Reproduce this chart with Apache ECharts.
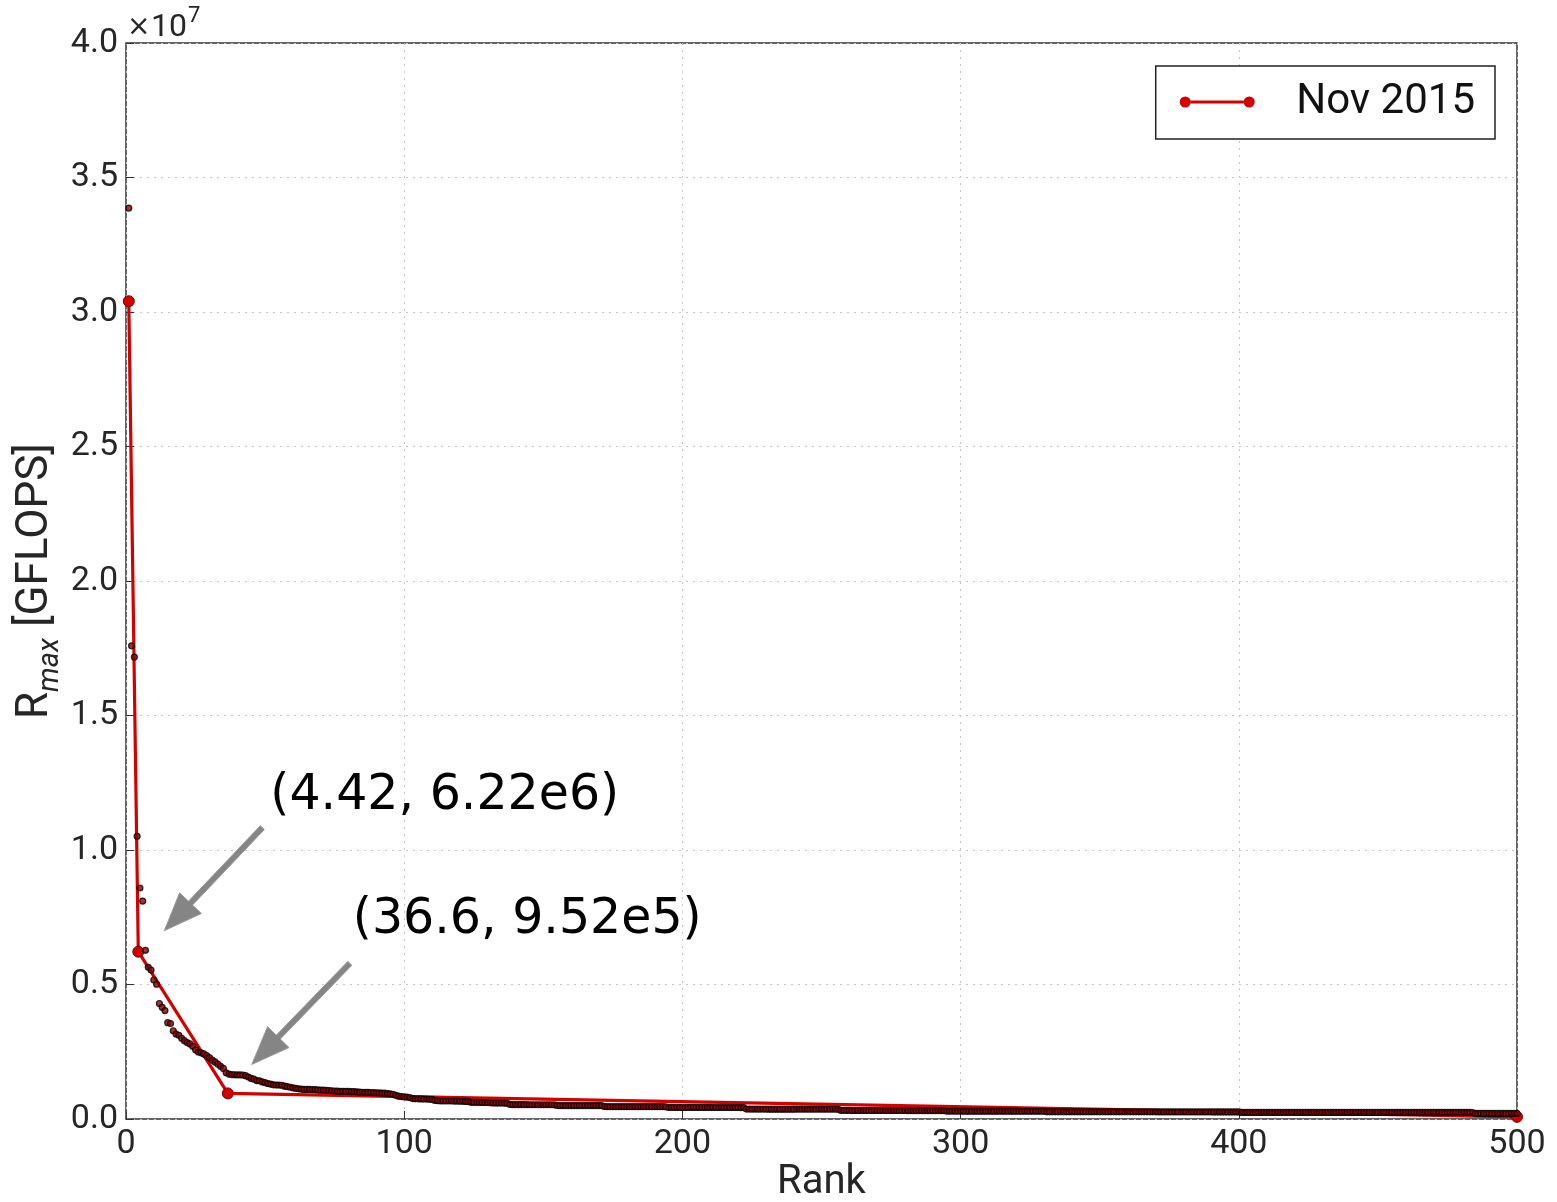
<!DOCTYPE html>
<html>
<head>
<meta charset="utf-8">
<title>Top500 Rmax by rank, Nov 2015</title>
<script src="https://cdn.jsdelivr.net/npm/echarts@6/dist/echarts.min.js"></script>
<style>
  html, body { margin: 0; padding: 0; background: #fff; overflow: hidden; }
  #chart { width: 1557px; height: 1202px; }
</style>
</head>
<body>
<div id="chart"></div>
<script>
// Rmax of each ranked system (TFLOPS), rank 1 .. 500
const rmaxTflops = [
  33862.7, 17590.0, 17173.2, 10510.0, 8586.6, 8100.9, 6271.0, 5640.2, 5537.0, 5168.1,
  5008.9, 4293.3, 4150, 4030, 3580, 3550, 3280, 3160, 3110, 3000,
  2910, 2840, 2790, 2700, 2570, 2490, 2460, 2420, 2360, 2280,
  2190, 2120, 2040, 1960, 1880, 1720, 1670, 1650, 1645, 1640,
  1640, 1635, 1610, 1560, 1510, 1480, 1430, 1420, 1380, 1350,
  1320, 1300, 1270, 1260, 1260, 1255, 1220, 1200, 1180, 1160,
  1140, 1120, 1110, 1100, 1100, 1100, 1095, 1090, 1080, 1070,
  1070, 1065, 1060, 1050, 1040, 1035, 1030, 1030, 1030, 1025,
  1020, 1020, 1010, 1000, 995, 990, 990, 985, 980, 975,
  970, 965, 960, 945, 935, 920, 880, 850, 830, 820,
  810, 800, 760, 750, 750, 745, 740, 740, 735, 730,
  690, 680, 670, 670, 670, 670, 670, 665, 665, 660,
  660, 655, 650, 620, 620, 620, 615, 615, 610, 610,
  600, 598, 596, 595, 595, 590, 585, 540, 535, 535,
  535, 535, 535, 535, 530, 530, 530, 530, 530, 530,
  530, 530, 530, 528, 505, 500, 500, 500, 500, 500,
  500, 500, 500, 500, 500, 500, 500, 500, 500, 500,
  495, 465, 460, 460, 460, 460, 460, 460, 460, 460,
  460, 460, 460, 460, 460, 460, 460, 460, 460, 460,
  460, 460, 460, 455, 432, 432, 430, 430, 430, 430,
  430, 430, 430, 430, 430, 430, 430, 430, 430, 430,
  428, 428, 428, 428, 428, 428, 428, 428, 428, 428,
  426, 425, 370, 368, 368, 368, 368, 368, 368, 368,
  366, 366, 366, 366, 366, 366, 366, 366, 366, 366,
  364, 364, 364, 364, 364, 364, 364, 364, 364, 364,
  362, 362, 362, 362, 362, 360, 318, 318, 318, 318,
  316, 316, 316, 316, 316, 316, 316, 316, 316, 316,
  316, 316, 316, 316, 316, 316, 316, 316, 316, 316,
  314, 314, 314, 314, 314, 314, 314, 314, 314, 314,
  314, 314, 312, 312, 292, 292, 292, 292, 292, 292,
  290, 290, 290, 290, 290, 290, 290, 290, 290, 290,
  290, 290, 290, 290, 290, 290, 290, 290, 290, 290,
  288, 288, 288, 288, 288, 288, 288, 288, 288, 288,
  266, 266, 266, 266, 266, 266, 266, 266, 266, 266,
  266, 266, 266, 266, 266, 266, 266, 266, 266, 266,
  265, 265, 265, 265, 265, 265, 265, 265, 265, 265,
  265, 265, 265, 265, 265, 265, 265, 265, 265, 265,
  264, 264, 264, 264, 264, 264, 264, 264, 264, 264,
  264, 264, 264, 264, 264, 264, 264, 264, 264, 264,
  263, 263, 263, 263, 263, 263, 263, 263, 263, 263,
  246, 246, 246, 246, 246, 246, 246, 246, 246, 246,
  246, 246, 246, 246, 246, 246, 246, 246, 246, 246,
  245, 245, 245, 245, 245, 245, 245, 245, 245, 245,
  245, 245, 245, 245, 245, 245, 245, 245, 245, 245,
  245, 245, 245, 245, 245, 245, 245, 245, 245, 245,
  244, 244, 244, 244, 244, 244, 244, 244, 244, 244,
  244, 244, 244, 244, 244, 244, 244, 244, 244, 244,
  243, 243, 243, 243, 243, 243, 243, 243, 243, 243,
  243, 243, 243, 242, 206.4, 206.4, 206.4, 206.4, 206.4, 206.4,
  206.4, 206.4, 206.4, 206.4, 206.4, 206.4, 206.4, 206.4, 206.4, 206.4
];

// Piecewise-linear fit through the knee points (rank, GFLOPS)
const fitRank = [1, 4.42, 36.6, 500];
const fitRmax = [3.04e7, 6.22e6, 9.52e5, 8.0e4];
// Knots that get a callout label
const calloutKnots = [1, 2];

const seriesName = 'Nov 2015';
const xTicks = [0, 100, 200, 300, 400, 500];
const yTicks = [0, 5e6, 1e7, 1.5e7, 2e7, 2.5e7, 3e7, 3.5e7, 4e7];
const yExponent = 7;

const TICK_FONT = 'Roboto';
const ANNOT_FONT = '"DejaVu Sans"';
const INK = '#262626';

const chart = echarts.init(document.getElementById('chart'), null, { renderer: 'canvas' });

const rankedPoints = rmaxTflops.map((v, i) => [i + 1, v * 1000]);
const fitPoints = fitRank.map((r, i) => [r, fitRmax[i]]);

// legend glyph: marker - line - marker, with blank room before the text
const legendIcon = 'path://M0,6a5.5,5.5 0 1,0 11,0a5.5,5.5 0 1,0 -11,0z' +
  'M11,4.5h53v3h-53z' +
  'M64,6a5.5,5.5 0 1,0 11,0a5.5,5.5 0 1,0 -11,0z' +
  'M111.5,6h0.01z';

chart.setOption({
  animation: false,
  backgroundColor: '#fff',
  grid: {
    left: 126, right: 40, top: 43, bottom: 83,
    outerBoundsMode: 'none',
    show: true, borderColor: '#333', borderWidth: 1.5, backgroundColor: 'transparent'
  },
  legend: {
    data: [{ name: seriesName, icon: legendIcon }],
    right: 62, top: 66,
    itemWidth: 111.5, itemHeight: 11,
    itemStyle: { borderWidth: 0 },
    backgroundColor: '#fff',
    borderColor: '#222', borderWidth: 1.5, borderRadius: 0,
    padding: [14, 20, 15, 24],
    selectedMode: false,
    textStyle: { fontFamily: TICK_FONT, fontSize: 42, color: '#111', lineHeight: 44 }
  },
  xAxis: {
    type: 'value', min: xTicks[0], max: xTicks[xTicks.length - 1], interval: 100,
    axisLine: { show: false },
    axisTick: { show: true, inside: true, length: 8, lineStyle: { color: '#333', width: 1 } },
    axisLabel: { fontFamily: TICK_FONT, fontSize: 34, color: INK, margin: 8 },
    splitLine: { show: true, lineStyle: { color: '#c4c4c4', width: 1, type: [2, 5] } },
    name: 'Rank', nameLocation: 'middle', nameGap: 44, nameMoveOverlap: false,
    nameTextStyle: { fontFamily: TICK_FONT, fontSize: 40, color: INK }
  },
  yAxis: {
    type: 'value', min: yTicks[0], max: yTicks[yTicks.length - 1], interval: 5e6,
    axisLine: { show: false },
    axisTick: { show: true, inside: true, length: 8, lineStyle: { color: '#333', width: 1 } },
    axisLabel: {
      fontFamily: TICK_FONT, fontSize: 34, color: INK, margin: 8,
      formatter: v => (v / Math.pow(10, yExponent)).toFixed(1)
    },
    splitLine: { show: true, lineStyle: { color: '#c4c4c4', width: 1, type: [2, 5] } },
    name: '{r|R}{s|max}{r| [GFLOPS]}', nameLocation: 'middle', nameGap: 68, nameMoveOverlap: false,
    nameTextStyle: {
      rich: {
        r: { fontFamily: TICK_FONT, fontSize: 44, color: INK, lineHeight: 44, verticalAlign: 'top' },
        s: { fontFamily: TICK_FONT, fontSize: 29, fontStyle: 'italic', color: INK, lineHeight: 29, padding: [22, 0, 0, 0], verticalAlign: 'top' }
      }
    }
  },
  series: [
    {
      type: 'line', name: seriesName, data: fitPoints,
      symbol: 'circle', symbolSize: 11, showSymbol: true,
      lineStyle: { color: '#d40000', width: 3.2 },
      itemStyle: { color: '#d40000', borderColor: '#6a0000', borderWidth: 1 },
      z: 2, silent: true
    },
    {
      type: 'scatter', name: 'ranked systems', data: rankedPoints,
      symbol: 'circle', symbolSize: 6,
      itemStyle: { color: '#8a0000', borderColor: '#000', borderWidth: 1.2 },
      z: 3, silent: true
    }
  ]
});

// Arrow polygon from tail to tip, with a triangular head
function arrowPoints(tail, tip, shaftHalf, headLen, headHalf) {
  const dx = tip[0] - tail[0], dy = tip[1] - tail[1];
  const len = Math.hypot(dx, dy);
  const ux = dx / len, uy = dy / len;
  const nx = -uy, ny = ux;
  const bx = tip[0] - ux * headLen, by = tip[1] - uy * headLen;
  return [
    [tail[0] + nx * shaftHalf, tail[1] + ny * shaftHalf],
    [bx + nx * shaftHalf, by + ny * shaftHalf],
    [bx + nx * headHalf, by + ny * headHalf],
    [tip[0], tip[1]],
    [bx - nx * headHalf, by - ny * headHalf],
    [bx - nx * shaftHalf, by - ny * shaftHalf],
    [tail[0] - nx * shaftHalf, tail[1] - ny * shaftHalf]
  ];
}

const sci = v => v.toExponential(2).replace('e+', 'e');

// pixel offsets of each callout relative to its knot
const calloutLayout = [
  { tail: [124, -124], tip: [26, -21], text: [132, -155] },
  { tail: [122, -130], tip: [24, -29], text: [125, -173] }
];

function drawOverlays() {
  const elements = [];
  const corner = chart.convertToPixel({ gridIndex: 0 }, [xTicks[0], yTicks[yTicks.length - 1]]);
  // axis offset text (x10^7) above the top-left corner
  elements.push({
    type: 'text', id: 'expTimes', z: 10,
    style: {
      x: corner[0] + 1, y: corner[1] - 1,
      text: '×', font: '28px ' + ANNOT_FONT, fill: INK,
      textAlign: 'left', textVerticalAlign: 'bottom'
    }
  });
  elements.push({
    type: 'text', id: 'expBase', z: 10,
    style: {
      x: corner[0] + 25, y: corner[1] + 1,
      text: '10', font: '32px ' + TICK_FONT, fill: INK,
      textAlign: 'left', textVerticalAlign: 'bottom'
    }
  });
  elements.push({
    type: 'text', id: 'expPower', z: 10,
    style: {
      x: corner[0] + 62, y: corner[1] - 16,
      text: String(yExponent), font: '22px ' + TICK_FONT, fill: INK,
      textAlign: 'left', textVerticalAlign: 'bottom'
    }
  });
  calloutKnots.forEach((k, j) => {
    const p = chart.convertToPixel({ gridIndex: 0 }, [fitRank[k], fitRmax[k]]);
    const lay = calloutLayout[j];
    const tail = [p[0] + lay.tail[0], p[1] + lay.tail[1]];
    const tip = [p[0] + lay.tip[0], p[1] + lay.tip[1]];
    elements.push({
      type: 'polygon', id: 'arrow' + j, z: 10,
      shape: { points: arrowPoints(tail, tip, 2.8, 38, 15) },
      style: { fill: '#858585', stroke: '#9a9a9a', lineWidth: 1 }
    });
    elements.push({
      type: 'text', id: 'callout' + j, z: 10,
      style: {
        x: p[0] + lay.text[0], y: p[1] + lay.text[1],
        text: '(' + fitRank[k] + ', ' + sci(fitRmax[k]) + ')',
        font: '49px ' + ANNOT_FONT,
        fill: '#000',
        textAlign: 'left', textVerticalAlign: 'middle'
      }
    });
  });
  chart.setOption({ graphic: elements });
}

drawOverlays();
</script>
</body>
</html>
